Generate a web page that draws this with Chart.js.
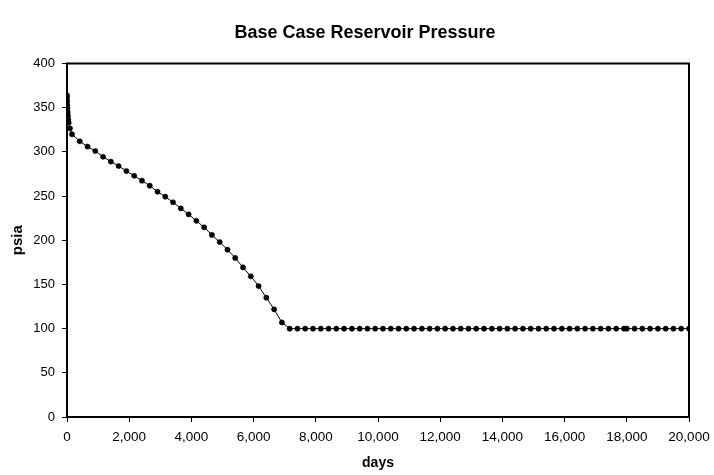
<!DOCTYPE html>
<html>
<head>
<meta charset="utf-8">
<script src="https://cdn.jsdelivr.net/npm/chart.js@4"></script>
<style>
  html, body { margin: 0; padding: 0; background: #fff; }
  #wrap { width: 714px; height: 475px; }
</style>
</head>
<body>
<div id="wrap"><canvas id="c" width="714" height="475"></canvas></div>
<script>
const chartTitle = "Base Case Reservoir Pressure";
const xTitle = "days";
const yTitle = "psia";
const xTicks = [0, 2000, 4000, 6000, 8000, 10000, 12000, 14000, 16000, 18000, 20000];
const yTicks = [0, 50, 100, 150, 200, 250, 300, 350, 400];

const days = [
  0, 2, 5, 10, 15, 22, 30, 40, 55, 96,
  160, 410, 660, 910, 1160, 1410, 1660, 1910, 2160, 2410,
  2660, 2910, 3160, 3410, 3660, 3910, 4160, 4410, 4660, 4910,
  5160, 5410, 5660, 5910, 6160, 6410, 6660, 6910, 7160, 7410,
  7660, 7910, 8160, 8410, 8660, 8910, 9160, 9410, 9660, 9910,
  10160, 10410, 10660, 10910, 11160, 11410, 11660, 11910, 12160, 12410,
  12660, 12910, 13160, 13410, 13660, 13910, 14160, 14410, 14660, 14910,
  15160, 15410, 15660, 15910, 16160, 16410, 16660, 16910, 17160, 17410,
  17660, 17910, 18000, 18250, 18500, 18750, 19000, 19250, 19500, 19750,
  20000
];
const psia = [
  364, 361, 357, 353, 349, 345, 341, 337, 333, 326.6,
  320, 312, 306, 301, 294.5, 289, 284, 278.3, 273, 267.4,
  261.7, 255, 249.3, 243, 236.1, 229.3, 222, 214.6, 206, 198,
  189.3, 180, 169.3, 159.2, 148.2, 135, 121.8, 107, 100, 100,
  100, 100, 100, 100, 100, 100, 100, 100, 100, 100,
  100, 100, 100, 100, 100, 100, 100, 100, 100, 100,
  100, 100, 100, 100, 100, 100, 100, 100, 100, 100,
  100, 100, 100, 100, 100, 100, 100, 100, 100, 100,
  100, 100, 100, 100, 100, 100, 100, 100, 100, 100,
  100
];

const points = days.map((d, i) => ({ x: d, y: psia[i] }));
const FONT = "'Liberation Sans', Arial, sans-serif";

const decorPlugin = {
  id: 'decor',
  afterDatasetsDraw(chart) {
    const { ctx, chartArea: a } = chart;
    ctx.save();
    ctx.strokeStyle = '#000';
    ctx.lineWidth = 2;
    ctx.strokeRect(a.left, a.top, a.right - a.left, a.bottom - a.top);
    ctx.restore();
  },
  afterDraw(chart) {
    const { ctx } = chart;
    ctx.save();
    ctx.fillStyle = '#000';
    ctx.font = "bold 18px " + FONT;
    ctx.textAlign = 'center';
    ctx.textBaseline = 'middle';
    ctx.fillText(chartTitle, 365, 33);
    ctx.restore();
  }
};

new Chart(document.getElementById('c'), {
  type: 'line',
  data: {
    datasets: [{
      data: points,
      borderColor: '#000',
      borderWidth: 1,
      backgroundColor: '#000',
      pointBackgroundColor: '#000',
      pointBorderColor: '#000',
      pointRadius: 2.6,
      pointBorderWidth: 0.5,
      pointStyle: 'circle',
      tension: 0,
      fill: false
    }]
  },
  options: {
    responsive: false,
    animation: false,
    events: [],
    layout: { padding: { left: 0, right: 25, top: 63.5, bottom: 0 } },
    plugins: {
      legend: { display: false },
      tooltip: { enabled: false },
      title: { display: false }
    },
    scales: {
      x: {
        type: 'linear',
        min: 0, max: 20000,
        afterBuildTicks(scale) { scale.ticks = xTicks.map(v => ({ value: v })); },
        afterFit(scale) { scale.height = 58; scale.paddingRight = 0; scale.paddingLeft = 0; },
        border: { display: true, color: '#000', width: 2 },
        grid: { display: true, drawOnChartArea: false, drawTicks: true, tickLength: 5, color: '#000', lineWidth: 1 },
        ticks: {
          color: '#000',
          font: { family: FONT, size: 13.5 },
          padding: 7,
          maxRotation: 0,
          autoSkip: false,
          callback: v => v.toLocaleString('en-US')
        },
        title: {
          display: true,
          text: xTitle,
          color: '#000',
          font: { family: FONT, size: 14, weight: 'bold' },
          padding: { top: 0, bottom: 3 }
        }
      },
      y: {
        type: 'linear',
        min: 0, max: 400,
        afterBuildTicks(scale) { scale.ticks = yTicks.map(v => ({ value: v })); },
        afterFit(scale) { scale.width = 67; },
        border: { display: true, color: '#000', width: 2 },
        grid: { display: true, drawOnChartArea: false, drawTicks: true, tickLength: 5, color: '#000', lineWidth: 1 },
        ticks: {
          color: '#000',
          font: { family: FONT, size: 13 },
          padding: 7,
          autoSkip: false
        },
        title: {
          display: true,
          text: yTitle,
          color: '#000',
          font: { family: FONT, size: 15, weight: 'bold' },
          padding: { top: 9, bottom: 0 }
        }
      }
    }
  },
  plugins: [decorPlugin]
});
</script>
</body>
</html>
